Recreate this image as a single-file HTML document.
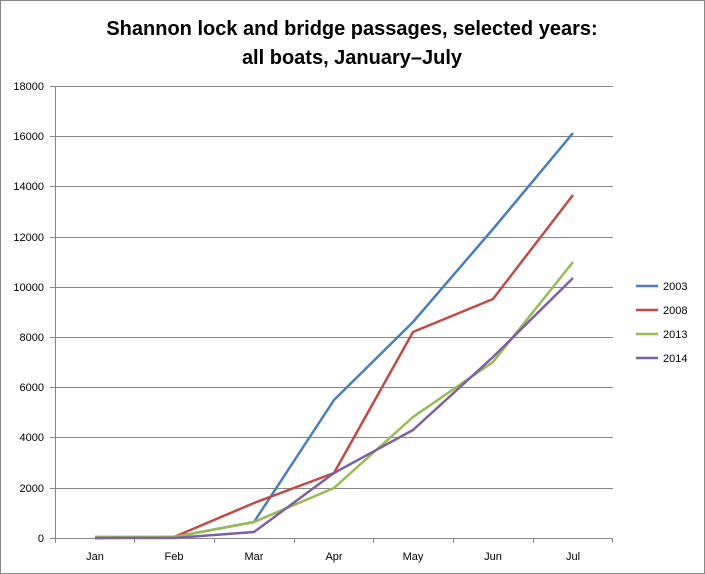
<!DOCTYPE html>
<html><head><meta charset="utf-8"><style>
html,body{margin:0;padding:0;background:#fff;}
svg{display:block;font-family:"Liberation Sans",sans-serif;}
</style></head><body>
<svg width="705" height="574" viewBox="0 0 705 574">
<rect x="0.5" y="0.5" width="704" height="573" fill="#fff" stroke="#868686"/>
<text x="352" y="35" text-anchor="middle" font-size="20" font-weight="bold">Shannon lock and bridge passages, selected years:</text>
<text x="352" y="64" text-anchor="middle" font-size="20" font-weight="bold">all boats, January–July</text>
<g stroke="#868686" stroke-width="1">
<line x1="55" y1="86.5" x2="613" y2="86.5"/>
<line x1="55" y1="136.5" x2="613" y2="136.5"/>
<line x1="55" y1="186.5" x2="613" y2="186.5"/>
<line x1="55" y1="237.5" x2="613" y2="237.5"/>
<line x1="55" y1="287.5" x2="613" y2="287.5"/>
<line x1="55" y1="337.5" x2="613" y2="337.5"/>
<line x1="55" y1="387.5" x2="613" y2="387.5"/>
<line x1="55" y1="437.5" x2="613" y2="437.5"/>
<line x1="55" y1="488.5" x2="613" y2="488.5"/>
<line x1="55" y1="538.5" x2="613" y2="538.5"/>
<line x1="55.5" y1="86" x2="55.5" y2="543"/>
<line x1="50" y1="86.5" x2="55" y2="86.5"/><line x1="50" y1="136.5" x2="55" y2="136.5"/><line x1="50" y1="186.5" x2="55" y2="186.5"/><line x1="50" y1="237.5" x2="55" y2="237.5"/><line x1="50" y1="287.5" x2="55" y2="287.5"/><line x1="50" y1="337.5" x2="55" y2="337.5"/><line x1="50" y1="387.5" x2="55" y2="387.5"/><line x1="50" y1="437.5" x2="55" y2="437.5"/><line x1="50" y1="488.5" x2="55" y2="488.5"/><line x1="50" y1="538.5" x2="55" y2="538.5"/>
<line x1="134.5" y1="538" x2="134.5" y2="543"/><line x1="214.5" y1="538" x2="214.5" y2="543"/><line x1="294.5" y1="538" x2="294.5" y2="543"/><line x1="373.5" y1="538" x2="373.5" y2="543"/><line x1="453.5" y1="538" x2="453.5" y2="543"/><line x1="533.5" y1="538" x2="533.5" y2="543"/><line x1="612.5" y1="538" x2="612.5" y2="543"/>
</g>
<g font-size="11" text-anchor="end">
<text x="44" y="90">18000</text><text x="44" y="140">16000</text><text x="44" y="190">14000</text><text x="44" y="241">12000</text><text x="44" y="291">10000</text><text x="44" y="341">8000</text><text x="44" y="391">6000</text><text x="44" y="441">4000</text><text x="44" y="492">2000</text><text x="44" y="542">0</text>
</g>
<g font-size="11" text-anchor="middle">
<text x="95" y="560">Jan</text><text x="174" y="560">Feb</text><text x="254" y="560">Mar</text><text x="334" y="560">Apr</text><text x="413" y="560">May</text><text x="493" y="560">Jun</text><text x="573" y="560">Jul</text>
</g>
<g fill="none" stroke-width="2.5" stroke-linejoin="round">
<polyline stroke="#4a7ebb" points="95,537 174,537 254,522 334,400 413,322 493,229 573,133"/>
<polyline stroke="#be4b48" points="95,538 174,537 254,503 334,473 413,332 493,299 573,195"/>
<polyline stroke="#98b954" points="95,537 174,537 254,522 334,488 413,417 493,362 573,262"/>
<polyline stroke="#7d60a0" points="95,538 174,538 254,532 334,473 413,430 493,357 573,278"/>
</g>
<g stroke-width="2.5">
<line x1="636" y1="286" x2="658" y2="286" stroke="#4a7ebb"/>
<line x1="636" y1="310" x2="658" y2="310" stroke="#be4b48"/>
<line x1="636" y1="334" x2="658" y2="334" stroke="#98b954"/>
<line x1="636" y1="358" x2="658" y2="358" stroke="#7d60a0"/>
</g>
<g font-size="11">
<text x="663" y="290">2003</text><text x="663" y="314">2008</text><text x="663" y="338">2013</text><text x="663" y="362">2014</text>
</g>
</svg>
</body></html>
